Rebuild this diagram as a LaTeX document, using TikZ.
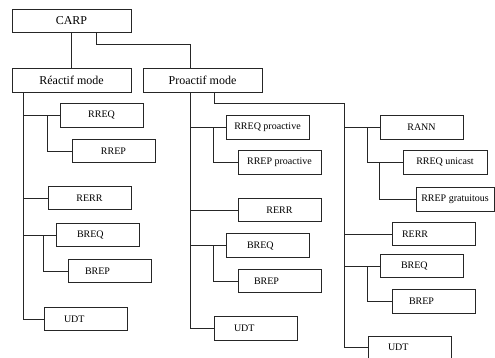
\documentclass[tikz,border=0pt]{standalone}
\usepackage{fontspec}
\setmainfont{Liberation Serif}
\usepackage{xcolor}
\usepackage{tikz}
\usetikzlibrary{calc}
\definecolor{ln}{HTML}{262626}
\tikzstyle{box} = [draw=ln, line width=0.8pt, rectangle, minimum width=83pt, minimum height=23.5pt, inner sep=0pt, font=\fontsize{10}{12}\selectfont]
\tikzstyle{wide} = [box, minimum width=119pt, font=\fontsize{12}{14}\selectfont]
\tikzstyle{conn} = [draw=ln, line width=0.8pt]
\tikzset{lbox/.style={box, align=left, inner xsep=#1, text width=83pt-2*#1}}

\begin{document}
\begin{tikzpicture}[x=1pt, y=-1pt]
	\useasboundingbox (0,0) rectangle (495,358);
	
	\node[wide] (carp) at (71.5,21) {CARP} ;
	\node[wide] (reactif) at (71.5,80.5) {Réactif mode} ;
	\node[wide] (proactif) at (202.5,80.5) {Proactif mode} ;
	
	% reactive side
	\node[box] (rreqA) at (101.5,115.5) {RREQ} ;
	\node[box] (rrepA) at (113.5,151) {RREP} ;
	\node[box] (rerrA) at (89.5,198) {RERR} ;
	\node[lbox=21pt] (breqA) at (97.5,235) {BREQ} ;
	\node[lbox=17pt] (brepA) at (109.5,271) {BREP} ;
	\node[lbox=20pt] (udtA) at (85.5,319) {UDT} ;
	
	% proactive side
	\node[box] (rreqP) at (267.5,127.5) {RREQ proactive} ;
	\node[box] (rrepP) at (279.5,162.5) {RREP proactive} ;
	\node[box] (rerrB) at (279.5,210) {RERR} ;
	\node[lbox=21pt] (breqB) at (267.5,245.5) {BREQ} ;
	\node[lbox=16pt] (brepB) at (279.5,281) {BREP} ;
	\node[lbox=20pt] (udtB) at (255.5,328.5) {UDT} ;
	
	\node[box] (rann) at (421.5,127.5) {RANN} ;
	\node[box, minimum width=84pt] (rreqU) at (445,162.5) {RREQ unicast} ;
	\node[box, minimum width=78pt] (rrepG) at (455,199.5) {RREP gratuitous} ;
	\node[lbox=10pt] (rerrC) at (433.5,234) {RERR} ;
	\node[lbox=21pt] (breqC) at (421.5,266) {BREQ} ;
	\node[lbox=17pt] (brepC) at (433.5,301.5) {BREP} ;
	\node[lbox=20pt, minimum height=22pt] (udtC) at (409.5,347.5) {UDT} ;
	
	% trunks
	\draw[conn] (carp) -- (reactif) ;
	\draw[conn] ($(carp.south)+(24.5,0)$) -- ++(0,11) -| ($(proactif.north west)+(48,0)$) ;
	
	\coordinate (tA) at ($(reactif.south west)+(12,0)$) ;
	\coordinate (tB) at ($(proactif.south west)+(48,0)$) ;
	\coordinate (tC) at (344,103) ;
	\draw[conn] (tA) |- (udtA.west) ;
	\draw[conn] (tB) |- (udtB.west) ;
	\draw[conn] ($(proactif.south)+(11.5,0)$) |- (tC) |- (udtC.west) ;
	
	\foreach \n in {rreqA, rerrA, breqA}
	{
		\draw[conn] (\n.west) -- (\n.west -| tA) ;
	}
	\foreach \n in {rreqP, rerrB, breqB}
	{
		\draw[conn] (\n.west) -- (\n.west -| tB) ;
	}
	\foreach \n in {rann, rerrC, breqC}
	{
		\draw[conn] (\n.west) -- (\n.west -| tC) ;
	}
	
	% sub branches
	\foreach \a/\b in {rreqA/rrepA, breqA/brepA, rreqP/rrepP, breqB/brepB, rann/rreqU, breqC/brepC}
	{
		\draw[conn] ($(\a.west)+(-12,0)$) |- (\b.west) ;
	}
	\draw[conn] ($(rreqU.west)+(-23,0)$) |- (rrepG.west) ;
\end{tikzpicture}
\end{document}
